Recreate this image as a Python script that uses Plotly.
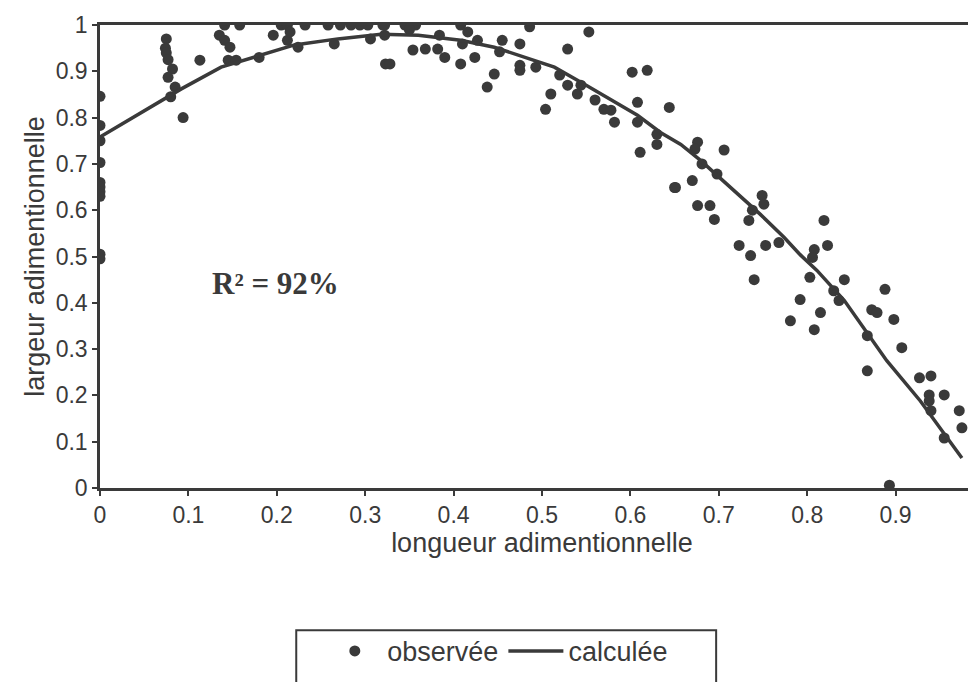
import plotly.graph_objects as go

# observed points (dimensionless length, dimensionless width)
obs_x = [0.0, 0.0, 0.0, 0.0, 0.0, 0.0, 0.0, 0.0, 0.0, 0.0,
         0.075, 0.074, 0.075, 0.077, 0.082, 0.077, 0.085, 0.08, 0.094, 0.113,
         0.141, 0.158, 0.135, 0.141, 0.147, 0.145, 0.154, 0.18, 0.196, 0.205,
         0.212, 0.212, 0.215, 0.224, 0.232, 0.258, 0.265, 0.272, 0.284, 0.294,
         0.303, 0.306, 0.32, 0.323, 0.322, 0.322, 0.345, 0.357, 0.35, 0.354,
         0.328, 0.368, 0.382, 0.384, 0.39, 0.408, 0.416, 0.41, 0.427, 0.424,
         0.408, 0.455, 0.475, 0.452, 0.486, 0.446, 0.438, 0.475, 0.475, 0.493,
         0.51, 0.504, 0.52, 0.529, 0.529, 0.54, 0.544, 0.553, 0.56, 0.57,
         0.578, 0.582, 0.602, 0.619, 0.608, 0.608, 0.611, 0.63, 0.63, 0.644,
         0.65, 0.676, 0.673, 0.706, 0.681, 0.698, 0.651, 0.67, 0.676, 0.69,
         0.695, 0.749, 0.751, 0.738, 0.734, 0.819, 0.723, 0.753, 0.768, 0.808,
         0.823, 0.736, 0.74, 0.806, 0.803, 0.842, 0.83, 0.836, 0.792, 0.815,
         0.781, 0.808, 0.888, 0.873, 0.879, 0.898, 0.868, 0.907, 0.868, 0.927,
         0.94, 0.938, 0.955, 0.938, 0.94, 0.972, 0.975, 0.955, 0.893]
obs_y = [0.846, 0.783, 0.75, 0.703, 0.66, 0.65, 0.64, 0.63, 0.505, 0.495,
         0.97, 0.95, 0.94, 0.925, 0.905, 0.887, 0.866, 0.845, 0.80, 0.924,
         1.0, 1.0, 0.978, 0.967, 0.952, 0.924, 0.924, 0.93, 0.978, 1.0,
         1.0, 0.967, 0.985, 0.952, 1.0, 1.0, 0.959, 1.0, 1.0, 1.0,
         1.0, 0.97, 1.0, 0.916, 1.0, 0.978, 1.0, 1.0, 0.99, 0.946,
         0.916, 0.948, 0.948, 0.978, 0.93, 1.0, 0.985, 0.959, 0.967, 0.93,
         0.916, 0.967, 0.959, 0.942, 0.996, 0.894, 0.866, 0.913, 0.902, 0.909,
         0.851, 0.818, 0.892, 0.948, 0.87, 0.851, 0.87, 0.985, 0.838, 0.818,
         0.816, 0.79, 0.898, 0.902, 0.833, 0.79, 0.725, 0.764, 0.742, 0.822,
         0.649, 0.747, 0.732, 0.73, 0.70, 0.678, 0.649, 0.664, 0.61, 0.61,
         0.58, 0.632, 0.613, 0.60, 0.578, 0.578, 0.524, 0.524, 0.53, 0.515,
         0.524, 0.502, 0.45, 0.498, 0.455, 0.45, 0.426, 0.405, 0.407, 0.379,
         0.361, 0.342, 0.429, 0.385, 0.379, 0.364, 0.329, 0.303, 0.253, 0.238,
         0.242, 0.201, 0.201, 0.188, 0.167, 0.167, 0.13, 0.108, 0.006]

# fitted curve
fit_x = [0.0, 0.08, 0.092, 0.137, 0.182, 0.22, 0.269, 0.318, 0.36, 0.408,
         0.446, 0.484, 0.514, 0.548, 0.578, 0.608, 0.634, 0.657, 0.679, 0.717,
         0.747, 0.774, 0.792, 0.811, 0.842, 0.89, 0.928, 0.975]
fit_y = [0.758, 0.848, 0.862, 0.909, 0.935, 0.957, 0.97, 0.98, 0.978, 0.967,
         0.952, 0.927, 0.909, 0.872, 0.838, 0.805, 0.768, 0.742, 0.708, 0.643,
         0.591, 0.541, 0.504, 0.47, 0.405, 0.275, 0.188, 0.065]

INK = "#3a3a3a"

fig = go.Figure()
fig.add_trace(go.Scatter(
    x=obs_x, y=obs_y, mode="markers", name="observée",
    marker=dict(color=INK, size=11, symbol="circle"),
))
fig.add_trace(go.Scatter(
    x=fit_x, y=fit_y, mode="lines", name="calculée",
    line=dict(color=INK, width=3.5),
))

fig.add_annotation(
    x=0.199, y=0.442, xref="x", yref="y", showarrow=False,
    text="<b>R² = 92%</b>",
    font=dict(family="Liberation Serif", size=31, color=INK),
)

# legend frame, runs off the bottom of the page
fig.add_shape(
    type="rect", xref="paper", yref="paper",
    x0=0.222, x1=0.697, y0=-0.6, y1=-0.307,
    line=dict(color=INK, width=2),
)

fig.update_layout(
    width=976, height=682,
    margin=dict(l=92, r=0, t=17, b=202),
    plot_bgcolor="white", paper_bgcolor="white",
    font=dict(family="Liberation Sans", size=22, color=INK),
    showlegend=True,
    legend=dict(
        orientation="h", x=0.45, xanchor="center", y=-0.30, yanchor="top",
        font=dict(size=27), bgcolor="rgba(0,0,0,0)", itemwidth=55,
    ),
    xaxis=dict(
        range=[0, 1.0], tickvals=[0, 0.1, 0.2, 0.3, 0.4, 0.5, 0.6, 0.7, 0.8, 0.9],
        ticktext=["0", "0.1", "0.2", "0.3", "0.4", "0.5", "0.6", "0.7", "0.8", "0.9"],
        tickfont=dict(size=23),
        showgrid=False, zeroline=False, showline=True, linecolor=INK, linewidth=2.5,
        mirror=True, ticks="outside", ticklen=5, tickwidth=2, tickcolor=INK,
        title=dict(text="longueur adimentionnelle", font=dict(size=27), standoff=6),
    ),
    yaxis=dict(
        range=[0, 1.0], dtick=0.1, tick0=0, tickfont=dict(size=23),
        showgrid=False, zeroline=False, showline=True, linecolor=INK, linewidth=2.5,
        ticks="outside", ticklen=5, tickwidth=2, tickcolor=INK,
        title=dict(text="largeur adimentionnelle", font=dict(size=27), standoff=4),
    ),
)

fig.write_html("out.html")
